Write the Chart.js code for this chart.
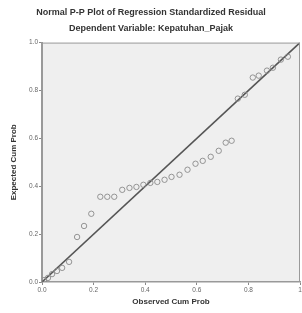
<!DOCTYPE html>
<html><head><meta charset="utf-8">
<script src="https://cdn.jsdelivr.net/npm/chart.js@4"></script>
<style>html,body{margin:0;padding:0;background:#fff;}#w{width:302px;height:313px;}</style>
</head><body><div id="w"><canvas id="c"></canvas></div>
<script>
const observedCumProb = [0.008,0.023,0.039,0.058,0.078,0.105,0.136,0.163,0.191,0.226,0.253,0.280,0.311,0.339,0.366,0.393,0.420,0.447,0.475,0.502,0.533,0.564,0.595,0.623,0.654,0.685,0.712,0.735,0.759,0.786,0.817,0.840,0.872,0.895,0.926,0.953];
const expectedCumProb = [0.008,0.017,0.033,0.046,0.059,0.084,0.188,0.234,0.285,0.356,0.356,0.356,0.385,0.393,0.397,0.406,0.414,0.418,0.427,0.439,0.448,0.469,0.494,0.506,0.523,0.548,0.582,0.590,0.766,0.782,0.854,0.862,0.883,0.895,0.929,0.941];
const xTickLabels = ["0.0","0.2","0.4","0.6","0.8","1"];
const yTickLabels = ["0.0","0.2","0.4","0.6","0.8","1.0"];
const titleText = "Normal P-P Plot of Regression Standardized Residual";
const subtitleText = "Dependent Variable: Kepatuhan_Pajak";
const xTitle = "Observed Cum Prob";
const yTitle = "Expected Cum Prob";

const points = observedCumProb.map((x,i)=>({x:x,y:expectedCumProb[i]}));
const FONT = "'Liberation Sans', Arial, sans-serif";

const bgPlugin = {
  id:'bg',
  afterLayout(chart){
    // align plot frame with the reference: plot area spans 42..300 horizontally
    const a = chart.chartArea;
    const want = 300;
    if (Math.abs(a.right - want) > 0.5) {
      const xs = chart.scales.x;
      a.right = want; a.width = a.right - a.left;
      xs.right = want; xs.width = xs.right - xs.left;
      xs.configure && xs.configure();
    }
  },
  beforeDraw(chart){
    const a = chart.chartArea, ctx = chart.ctx;
    ctx.save(); ctx.fillStyle='#efefef';
    ctx.fillRect(a.left,a.top,a.right-a.left,a.bottom-a.top);
    ctx.restore();
  },
  afterDatasetsDraw(chart){
    const a = chart.chartArea, ctx = chart.ctx;
    ctx.save(); ctx.strokeStyle='#9a9a9a'; ctx.lineWidth=1;
    ctx.beginPath();
    ctx.moveTo(a.left,a.top+0.5); ctx.lineTo(a.right-0.5,a.top+0.5); ctx.lineTo(a.right-0.5,a.bottom);
    ctx.stroke(); ctx.restore();
  }
};

new Chart(document.getElementById('c'), {
  type:'scatter',
  data:{datasets:[
    {type:'line', data:[{x:0,y:0},{x:1,y:1}], borderColor:'#555', borderWidth:1.6, pointRadius:0, order:2},
    {data:points, pointRadius:2.7, pointBorderWidth:0.9, pointBorderColor:'#8a8a8a', pointBackgroundColor:'rgba(0,0,0,0)', order:1}
  ]},
  options:{
    responsive:true, maintainAspectRatio:false, animation:false, devicePixelRatio:1,
    layout:{padding:{left:0,right:0,top:0,bottom:0}},
    plugins:{
      legend:{display:false}, tooltip:{enabled:false},
      title:{display:true, text:titleText, color:'#333', font:{family:FONT,size:9,weight:'bold'}, padding:{top:7,bottom:4}},
      subtitle:{display:true, text:subtitleText, color:'#333', font:{family:FONT,size:9,weight:'bold'}, padding:{top:1,bottom:9}}
    },
    scales:{
      x:{type:'linear', min:0, max:1,
        afterBuildTicks(s){ s.ticks = xTickLabels.map((l,i)=>({value:i*0.2})); },
        afterFit(s){ s.height = 31; s.paddingLeft = 0; s.paddingRight = 0; },
        ticks:{callback:(v,i)=>xTickLabels[i], color:'#666', font:{family:FONT,size:6.5}, padding:1, maxRotation:0, autoSkip:false},
        grid:{drawOnChartArea:false, drawTicks:true, tickLength:3, color:'#888'},
        border:{display:true, color:'#999', width:1.5},
        title:{display:true, text:xTitle, color:'#333', font:{family:FONT,size:8,weight:'bold'}, padding:{top:3,bottom:6}}
      },
      y:{type:'linear', min:0, max:1,
        afterBuildTicks(s){ s.ticks = yTickLabels.map((l,i)=>({value:i*0.2})); },
        afterFit(s){ s.width = 42; s.paddingTop = 0; s.paddingBottom = 0; },
        ticks:{callback:(v,i)=>yTickLabels[i], color:'#666', font:{family:FONT,size:6.5}, padding:1, autoSkip:false},
        grid:{drawOnChartArea:false, drawTicks:true, tickLength:3, color:'#888'},
        border:{display:true, color:'#999', width:2},
        title:{display:true, text:yTitle, color:'#333', font:{family:FONT,size:8,weight:'bold'}, padding:{top:9,bottom:4}}
      }
    }
  },
  plugins:[bgPlugin]
});
</script>
</body></html>
